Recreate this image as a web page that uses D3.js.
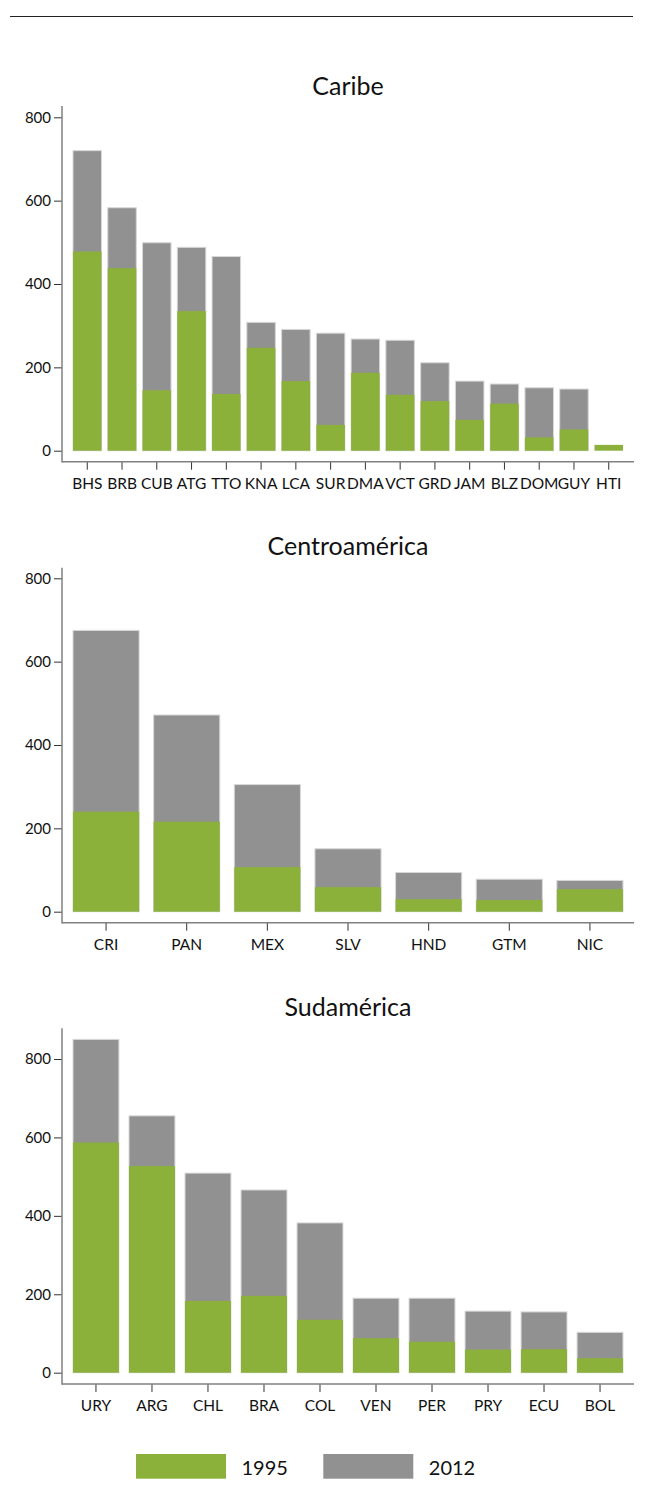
<!DOCTYPE html>
<html>
<head>
<meta charset="utf-8">
<script src="https://cdn.jsdelivr.net/npm/d3@7"></script>
<style>
  html, body { margin: 0; padding: 0; background: #fff; }
  svg { display: block; font-family: Lato, "Open Sans", sans-serif; }
</style>
</head>
<body>
<svg id="chart" width="656" height="1506"></svg>
<script>
// ---- Data ----
const caribeCategories = ["BHS","BRB","CUB","ATG","TTO","KNA","LCA","SUR","DMA","VCT","GRD","JAM","BLZ","DOM","GUY","HTI"];
const caribe1995 = [478, 438, 145, 335, 136, 247, 167, 62, 187, 134, 119, 74, 113, 32, 51, 14];
const caribe2012 = [720, 583, 499, 488, 466, 308, 291, 282, 268, 265, 211, 167, 160, 151, 148, null];

const centroCategories = ["CRI","PAN","MEX","SLV","HND","GTM","NIC"];
const centro1995 = [240, 216, 107, 59, 30, 28, 54];
const centro2012 = [675, 472, 305, 151, 94, 78, 75];

const sudCategories = ["URY","ARG","CHL","BRA","COL","VEN","PER","PRY","ECU","BOL"];
const sud1995 = [587, 527, 183, 196, 135, 88, 79, 59, 60, 37];
const sud2012 = [850, 655, 509, 466, 382, 190, 190, 157, 155, 103];

const yTickValues = [0, 200, 400, 600, 800];
const seriesNames = ["1995", "2012"];
const panelTitles = ["Caribe", "Centroamérica", "Sudamérica"];

// ---- Style ----
const GREEN = "#8bb13b";
const GRAY = "#919191";
const AXIS = "#808080";

const svg = d3.select("#chart");

// top rule
svg.append("line")
  .attr("x1", 10).attr("x2", 633).attr("y1", 16.5).attr("y2", 16.5)
  .attr("stroke", "#222").attr("stroke-width", 1.2);

const panels = [
  { title: panelTitles[0], cats: caribeCategories, v1: caribe1995, v2: caribe2012,
    titleY: 95, axisTop: 106, axisBottom: 461.7, zeroY: 450.7, y800: 117.3 },
  { title: panelTitles[1], cats: centroCategories, v1: centro1995, v2: centro2012,
    titleY: 555, axisTop: 567.7, axisBottom: 922.7, zeroY: 911.7, y800: 578.3 },
  { title: panelTitles[2], cats: sudCategories, v1: sud1995, v2: sud2012,
    titleY: 1016, axisTop: 1028.3, axisBottom: 1384, zeroY: 1372.7, y800: 1059 }
];

const axisLeftX = 62, axisRightX = 634;

panels.forEach(p => {
  const g = svg.append("g");

  const x = d3.scaleBand().domain(p.cats).range([73, 623]).paddingInner(0.18).paddingOuter(0);
  const y0 = d3.scaleLinear().domain([0, 800]).range([p.zeroY, p.y800]);
  const y = d3.scaleLinear()
    .domain([y0.invert(p.axisBottom), y0.invert(p.axisTop)])
    .range([p.axisBottom, p.axisTop]);

  // title
  g.append("text").attr("x", 348).attr("y", p.titleY)
    .attr("text-anchor", "middle").attr("font-size", 25).attr("fill", "#111")
    .text(p.title);

  const rows = p.cats.map((c, i) => ({ c, a: p.v1[i], b: p.v2[i] }));

  // 2012 bars (behind)
  g.selectAll("rect.b").data(rows.filter(d => d.b != null)).join("rect")
    .attr("class", "b")
    .attr("x", d => x(d.c)).attr("width", x.bandwidth())
    .attr("y", d => y(d.b)).attr("height", d => y(0) - y(d.b))
    .attr("fill", GRAY).attr("stroke", "#d8d8d8").attr("stroke-width", 1);

  // 1995 bars (front)
  g.selectAll("rect.a").data(rows.filter(d => d.a != null)).join("rect")
    .attr("class", "a")
    .attr("x", d => x(d.c)).attr("width", x.bandwidth())
    .attr("y", d => y(d.a)).attr("height", d => y(0) - y(d.a))
    .attr("fill", GREEN);

  // y axis
  const ya = g.append("g").attr("transform", `translate(${axisLeftX},0)`)
    .call(d3.axisLeft(y).tickValues(yTickValues).tickSize(8).tickPadding(3).tickFormat(d3.format("d")));
  ya.select(".domain").remove();
  ya.selectAll(".tick line").attr("stroke", "#333");
  ya.selectAll(".tick text").attr("font-size", 15).attr("fill", "#111").attr("font-family", "Lato, sans-serif");
  g.append("line").attr("x1", axisLeftX).attr("x2", axisLeftX)
    .attr("y1", p.axisTop).attr("y2", p.axisBottom + 0.75)
    .attr("stroke", AXIS).attr("stroke-width", 1.5);

  // x axis
  const xa = g.append("g").attr("transform", `translate(0,${p.axisBottom})`)
    .call(d3.axisBottom(x).tickSize(8).tickPadding(8));
  xa.select(".domain").remove();
  xa.selectAll(".tick line").attr("stroke", "#333");
  xa.selectAll(".tick text").attr("font-size", 15.5).attr("fill", "#111").attr("font-family", "Lato, sans-serif");
  g.append("line").attr("x1", axisLeftX).attr("x2", axisRightX)
    .attr("y1", p.axisBottom).attr("y2", p.axisBottom)
    .attr("stroke", AXIS).attr("stroke-width", 1.5);
});

// legend
const legend = svg.append("g");
const legendItems = [
  { name: seriesNames[0], color: GREEN, x: 136 },
  { name: seriesNames[1], color: GRAY, x: 323.3 }
];
legendItems.forEach(d => {
  legend.append("rect").attr("x", d.x).attr("y", 1454).attr("width", 90).attr("height", 24.7)
    .attr("fill", d.color);
  legend.append("text").attr("x", d.x + 105.5).attr("y", 1475)
    .attr("font-size", 20).attr("fill", "#111").text(d.name);
});
</script>
</body>
</html>
